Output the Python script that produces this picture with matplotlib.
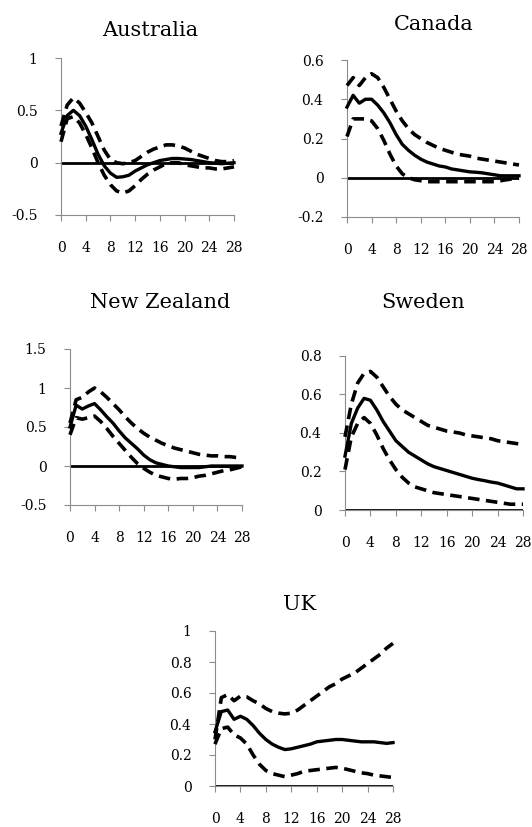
import numpy as np
import matplotlib.pyplot as plt

W, H = 532, 827
horizon = np.arange(29)

# impulse responses: point estimate and bands, horizons 0..28
aus_mid = [0.28, 0.45, 0.50, 0.45, 0.35, 0.22, 0.08, -0.03, -0.10, -0.14, -0.135, -0.12, -0.08, -0.05,
           -0.02, 0.0, 0.02, 0.03, 0.04, 0.04, 0.035, 0.03, 0.02, 0.01, 0.0, -0.005, -0.01, -0.005, 0.0]
aus_up = [0.35, 0.55, 0.62, 0.57, 0.48, 0.38, 0.25, 0.12, 0.03, 0.0, -0.01, 0.0, 0.02, 0.06,
          0.10, 0.13, 0.15, 0.17, 0.17, 0.16, 0.14, 0.11, 0.08, 0.06, 0.04, 0.02, 0.01, 0.01, 0.02]
aus_lo = [0.20, 0.42, 0.44, 0.38, 0.27, 0.14, 0.0, -0.12, -0.21, -0.27, -0.29, -0.27, -0.22, -0.16,
          -0.11, -0.07, -0.04, -0.01, 0.0, 0.0, -0.02, -0.03, -0.04, -0.05, -0.05, -0.06, -0.06, -0.05, -0.04]

can_mid = [0.36, 0.42, 0.38, 0.40, 0.40, 0.37, 0.33, 0.28, 0.22, 0.17, 0.14, 0.115, 0.095, 0.08,
           0.07, 0.06, 0.055, 0.045, 0.04, 0.035, 0.03, 0.028, 0.025, 0.02, 0.015, 0.01, 0.01, 0.01, 0.01]
can_up = [0.47, 0.51, 0.47, 0.51, 0.53, 0.51, 0.46, 0.40, 0.34, 0.29, 0.25, 0.22, 0.20, 0.18,
          0.165, 0.15, 0.14, 0.13, 0.12, 0.115, 0.11, 0.10, 0.095, 0.09, 0.085, 0.08, 0.075, 0.07, 0.065]
can_lo = [0.21, 0.30, 0.30, 0.30, 0.29, 0.25, 0.19, 0.12, 0.06, 0.02, 0.0, -0.01, -0.015, -0.02,
          -0.02, -0.02, -0.02, -0.02, -0.02, -0.02, -0.02, -0.02, -0.02, -0.02, -0.02, -0.015, -0.01, -0.005, 0.0]

nz_mid = [0.50, 0.78, 0.73, 0.77, 0.80, 0.72, 0.63, 0.55, 0.45, 0.36, 0.29, 0.22, 0.14, 0.08,
          0.04, 0.02, 0.0, -0.01, -0.02, -0.02, -0.02, -0.02, -0.01, 0.0, 0.0, 0.0, 0.0, 0.0, 0.0]
nz_up = [0.55, 0.85, 0.88, 0.95, 1.00, 0.95, 0.88, 0.80, 0.72, 0.63, 0.55, 0.48, 0.42, 0.37,
         0.33, 0.29, 0.26, 0.23, 0.21, 0.19, 0.17, 0.15, 0.14, 0.13, 0.13, 0.12, 0.12, 0.11, 0.10]
nz_lo = [0.40, 0.62, 0.60, 0.62, 0.64, 0.57, 0.48, 0.38, 0.29, 0.20, 0.11, 0.03, -0.03, -0.08,
         -0.12, -0.14, -0.16, -0.17, -0.16, -0.16, -0.15, -0.13, -0.12, -0.10, -0.08, -0.06, -0.05, -0.03, -0.01]

swe_mid = [0.28, 0.45, 0.53, 0.58, 0.57, 0.52, 0.46, 0.41, 0.36, 0.33, 0.30, 0.28, 0.26, 0.24,
           0.225, 0.215, 0.205, 0.195, 0.185, 0.175, 0.165, 0.158, 0.152, 0.145, 0.14, 0.13, 0.12, 0.11, 0.11]
swe_up = [0.38, 0.55, 0.66, 0.71, 0.72, 0.69, 0.64, 0.59, 0.55, 0.52, 0.50, 0.48, 0.46, 0.44,
          0.43, 0.42, 0.41, 0.405, 0.40, 0.39, 0.385, 0.38, 0.375, 0.37, 0.36, 0.355, 0.35, 0.345, 0.34]
swe_lo = [0.21, 0.38, 0.45, 0.48, 0.45, 0.39, 0.32, 0.26, 0.21, 0.17, 0.14, 0.12, 0.11, 0.10,
          0.09, 0.085, 0.08, 0.075, 0.07, 0.065, 0.06, 0.055, 0.05, 0.045, 0.04, 0.035, 0.03, 0.03, 0.03]

uk_mid = [0.35, 0.48, 0.49, 0.43, 0.45, 0.43, 0.39, 0.34, 0.30, 0.27, 0.25, 0.235, 0.24, 0.25,
          0.26, 0.27, 0.285, 0.29, 0.295, 0.30, 0.30, 0.295, 0.29, 0.285, 0.285, 0.285, 0.28, 0.275, 0.28]
uk_up = [0.30, 0.57, 0.59, 0.55, 0.58, 0.575, 0.55, 0.53, 0.50, 0.48, 0.47, 0.465, 0.47, 0.49,
         0.52, 0.55, 0.58, 0.61, 0.64, 0.66, 0.69, 0.71, 0.73, 0.76, 0.79, 0.82, 0.85, 0.89, 0.92]
uk_lo = [0.27, 0.37, 0.38, 0.33, 0.31, 0.27, 0.20, 0.14, 0.10, 0.08, 0.07, 0.06, 0.07, 0.08,
         0.095, 0.10, 0.105, 0.11, 0.115, 0.12, 0.115, 0.105, 0.095, 0.085, 0.08, 0.07, 0.065, 0.06, 0.055]

# name, data, y ticks, axes box in pixels (left, right, top, bottom), title centre in pixels
panels = [
    ("Australia", aus_mid, aus_up, aus_lo, [-0.5, 0, 0.5, 1], ["-0.5", "0", "0.5", "1"],
     (61, 234, 58, 215), (150, 30)),
    ("Canada", can_mid, can_up, can_lo, [-0.2, 0, 0.2, 0.4, 0.6], ["-0.2", "0", "0.2", "0.4", "0.6"],
     (347, 519, 60, 217), (434, 25)),
    ("New Zealand", nz_mid, nz_up, nz_lo, [-0.5, 0, 0.5, 1, 1.5], ["-0.5", "0", "0.5", "1", "1.5"],
     (70, 242, 349, 505), (160, 303)),
    ("Sweden", swe_mid, swe_up, swe_lo, [0, 0.2, 0.4, 0.6, 0.8], ["0", "0.2", "0.4", "0.6", "0.8"],
     (345, 523, 356, 510), (423, 303)),
    ("UK", uk_mid, uk_up, uk_lo, [0, 0.2, 0.4, 0.6, 0.8, 1], ["0", "0.2", "0.4", "0.6", "0.8", "1"],
     (215, 393, 631, 786), (300, 605)),
]

plt.rcParams['font.family'] = 'DejaVu Serif'
fig = plt.figure(figsize=(W / 100, H / 100), dpi=100)

for name, mid, up, lo, yt, ytl, (l, r, t, b), (tx, ty) in panels:
    ax = fig.add_axes([l / W, 1 - b / H, (r - l) / W, (b - t) / H])
    ax.axhline(0, color='black', lw=2, zorder=2)
    ax.plot(horizon, up, color='black', lw=2.6, ls=(0, (3.2, 1.8)), clip_on=False, zorder=3)
    ax.plot(horizon, lo, color='black', lw=2.6, ls=(0, (3.2, 1.8)), clip_on=False, zorder=3)
    ax.plot(horizon, mid, color='black', lw=2.4, clip_on=False, zorder=4)
    ax.set_xlim(0, 28)
    ax.set_ylim(yt[0], yt[-1])
    ax.set_xticks(range(0, 29, 4))
    ax.set_yticks(yt)
    ax.set_yticklabels(ytl)
    for s in ['top', 'right']:
        ax.spines[s].set_visible(False)
    for s in ['left', 'bottom']:
        ax.spines[s].set_color('#8c8c8c')
        ax.spines[s].set_linewidth(0.8)
    ax.tick_params(axis='x', length=4, width=0.8, color='#8c8c8c', pad=14.5, labelsize=10)
    ax.tick_params(axis='y', length=4, width=0.8, color='#8c8c8c', pad=13, labelsize=10)
    ax.patch.set_alpha(0)
    fig.text(tx / W, 1 - ty / H, name, ha='center', va='center', fontsize=15)

fig.savefig('out.png', dpi=100)
